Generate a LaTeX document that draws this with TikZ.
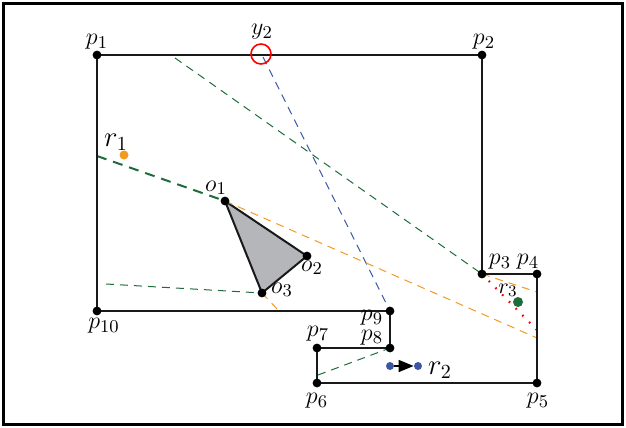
\documentclass[tikz,border=0pt]{standalone}
\usetikzlibrary{arrows.meta}
\definecolor{dgreen}{HTML}{1E6B3C}
\definecolor{orng}{HTML}{F39A21}
\definecolor{bblue}{HTML}{3B56A6}
\definecolor{tgray}{HTML}{B5B6BA}
\begin{document}
\begin{tikzpicture}[x=0.5pt,y=-0.5pt,
  vdot/.style={circle,fill=black,inner sep=0pt,minimum size=4.4pt},
  lbl/.style={inner sep=0pt,font=\fontsize{12.5}{14}\selectfont},
  biglbl/.style={inner sep=0pt,font=\fontsize{14}{16}\selectfont},
  smalllbl/.style={inner sep=0pt,font=\fontsize{11}{13}\selectfont},
  wall/.style={line width=1pt,draw=black!90},
  gdash/.style={draw=dgreen,line width=0.5pt,dash pattern=on 4pt off 3pt},
  odash/.style={draw=orng,line width=0.5pt,dash pattern=on 4pt off 3pt},
  bdash/.style={draw=bblue,line width=0.5pt,dash pattern=on 4pt off 3pt}]
\useasboundingbox (0,0) rectangle (626,428);
\draw[line width=1.2pt] (3.5,3.5) rectangle (622.5,424.5);
% polygon vertices
\coordinate (p1) at (97,55);
\coordinate (p2) at (482,55);
\coordinate (p3) at (482,274);
\coordinate (p4) at (537,274);
\coordinate (p5) at (537,383);
\coordinate (p6) at (317,383);
\coordinate (p7) at (317,348);
\coordinate (p8) at (390,348);
\coordinate (p9) at (390,311);
\coordinate (p10) at (97,311);
\coordinate (o1) at (225,201);
\coordinate (o2) at (307,256);
\coordinate (o3) at (262,293);
% free ends of dashed lines
\coordinate (gA) at (97,156);
\coordinate (gB) at (175,58);
\coordinate (bA) at (263,57);
\coordinate (bB) at (388,307);
\coordinate (oA) at (537,338);
\coordinate (oB) at (537,292);
\coordinate (oC) at (280,312);
\coordinate (gC) at (106,284);
\coordinate (gD) at (318,375);
\coordinate (rA) at (537,330);
% obstacle
\draw[wall,fill=tgray] (o1) -- (o2) -- (o3) -- cycle;
% dashed lines
\draw[draw=dgreen,line width=1pt,dash pattern=on 5pt off 3.5pt] (gA) -- (o1);
\draw[gdash] (gB) -- (p3);
\draw[bdash] (bA) -- (bB);
\draw[odash] (o1) -- (oA);
\draw[odash] (p3) -- (oB);
\draw[odash] (o3) -- (oC);
\draw[gdash] (gC) -- (o3);
\draw[gdash] (gD) -- (p8);
\draw[red,line width=1.1pt,dash pattern=on 0.8pt off 4pt] (p3) -- (rA);
% walls
\draw[wall] (p1) -- (p2) -- (p3) -- (p4) -- (p5) -- (p6) -- (p7) -- (p8) -- (p9) -- (p10) -- cycle;
% vertex dots
\foreach \n in {p1,p2,p3,p4,p5,p6,p7,p8,p9,p10,o1,o2,o3}
  \node[vdot] (d\n) at (\n) {};
% y2 circle
\node[circle,draw=red,line width=0.8pt,minimum size=10pt,inner sep=0pt] (y2c) at (261,54) {};
% robots
\node[circle,fill=orng,inner sep=0pt,minimum size=4.5pt] (r1d) at (124,155) {};
\node[circle,fill=dgreen,inner sep=0pt,minimum size=5pt] (r3d) at (518,302) {};
\node[circle,fill=bblue,inner sep=0pt,minimum size=4pt] (r2a) at (390,366) {};
\node[circle,fill=bblue,inner sep=0pt,minimum size=4pt] (r2b) at (418,366) {};
\draw[line width=0.8pt,-{Triangle[length=7.5pt,width=6pt]}] (r2a) -- (r2b);
% labels
\node[lbl] (lp1) at (97,42) {$p_1$};
\node[lbl] (lp2) at (484,42) {$p_2$};
\node[lbl] (lp3) at (500,262) {$p_3$};
\node[lbl] (lp4) at (528,262) {$p_4$};
\node[lbl] (lp5) at (538,401) {$p_5$};
\node[lbl] (lp6) at (317,401) {$p_6$};
\node[lbl] (lp7) at (318,334) {$p_7$};
\node[lbl] (lp8) at (372,337.5) {$p_8$};
\node[lbl] (lp9) at (372,318) {$p_9$};
\node[lbl] (lp10) at (104,326) {$p_{10}$};
\node[lbl] (lo1) at (216,188) {$o_1$};
\node[lbl] (lo2) at (312,268) {$o_2$};
\node[lbl] (lo3) at (282,290) {$o_3$};
\node[lbl] (ly2) at (262,32) {$y_2$};
\node[biglbl] (lr1) at (116,142) {$r_1$};
\node[biglbl] (lr2) at (440,370) {$r_2$};
\node[smalllbl] (lr3) at (508,290) {$r_3$};
\end{tikzpicture}
\end{document}
